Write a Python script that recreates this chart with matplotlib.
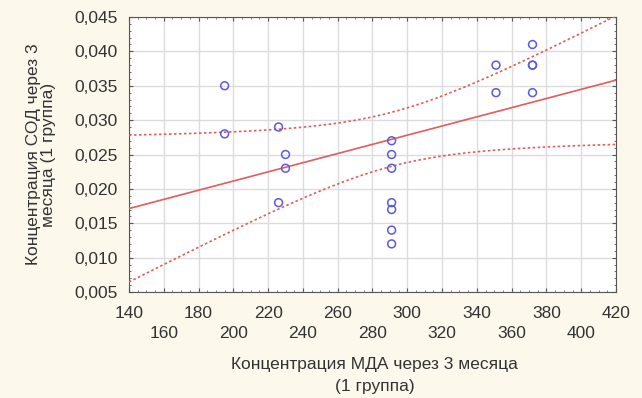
import numpy as np
import matplotlib.pyplot as plt
from matplotlib.ticker import MultipleLocator, FuncFormatter

plt.rcParams['font.family'] = ['Liberation Sans', 'DejaVu Sans']

# МДА (x) и СОД (y), 1 группа, через 3 месяца
mda = [195, 195, 226, 226, 230, 230,
       291, 291, 291, 291, 291, 291, 291,
       351, 351, 372, 372, 372, 372]
sod = [0.035, 0.028, 0.029, 0.018, 0.025, 0.023,
       0.027, 0.025, 0.023, 0.018, 0.017, 0.014, 0.012,
       0.038, 0.034, 0.041, 0.038, 0.038, 0.034]
xlabel = 'Концентрация МДА через 3 месяца\n(1 группа)'
ylabel = 'Концентрация СОД через 3\nмесяца (1 группа)'

x = np.array(mda, dtype=float)
y = np.array(sod)
n = len(x)
b, a = np.polyfit(x, y, 1)
resid = y - (a + b * x)
s = np.sqrt(np.sum(resid ** 2) / (n - 2))
t = 2.11  # t(0.975, df=17)
xs = np.linspace(140, 420, 200)
ys = a + b * xs
half = t * s * np.sqrt(1 / n + (xs - x.mean()) ** 2 / np.sum((x - x.mean()) ** 2))

fig = plt.figure(figsize=(6.42, 3.98), dpi=100, facecolor='#fdf8ec')
ax = fig.add_axes([0.2009, 0.2663, 0.7586, 0.6910])
ax.set_facecolor('white')

ax.plot(xs, ys, color='#e8595a', lw=1.2, zorder=3)
ax.plot(xs, ys + half, color='#e8595a', lw=1.2, ls=(0, (1.5, 1.5)), zorder=3)
ax.plot(xs, ys - half, color='#e8595a', lw=1.2, ls=(0, (1.5, 1.5)), zorder=3)
ax.scatter(x, y, s=32, facecolors='none', edgecolors='#5b5bdd', lw=1.1, zorder=4)

ax.set_xlim(140, 420)
ax.set_ylim(0.005, 0.045)
ax.xaxis.set_major_locator(MultipleLocator(20))
ax.xaxis.set_minor_locator(MultipleLocator(5))
ax.yaxis.set_major_locator(MultipleLocator(0.005))
ax.yaxis.set_minor_locator(MultipleLocator(0.001))

ax.xaxis.set_major_formatter(FuncFormatter(
    lambda v, p: ('%d' % v) if int(round(v)) % 40 == 20 else '\n%d' % v))
ax.yaxis.set_major_formatter(FuncFormatter(lambda v, p: ('%.3f' % v).replace('.', ',')))

ax.grid(True, color='#dcdcdc', lw=1.0)
ax.set_axisbelow(True)
ax.tick_params(which='both', direction='in', top=True, right=True, color='#555555')
ax.tick_params(which='major', length=3, labelsize=12.5, labelcolor='#333333')
ax.tick_params(axis='x', which='major', pad=10)
ax.tick_params(axis='y', which='major', pad=8)
ax.tick_params(which='minor', length=1.5)
for lbl in ax.get_xticklabels():
    lbl.set_linespacing(1.45)
for sp in ax.spines.values():
    sp.set_color('#555555')

ax.set_xlabel(xlabel, fontsize=12.5, color='#333333', linespacing=1.6)
ax.set_ylabel(ylabel, fontsize=12.5, color='#333333', linespacing=1.0)
ax.xaxis.set_label_coords(0.504, -0.235)
ax.yaxis.set_label_coords(-0.15, 0.5)

fig.savefig('out.png', dpi=100, facecolor=fig.get_facecolor())
